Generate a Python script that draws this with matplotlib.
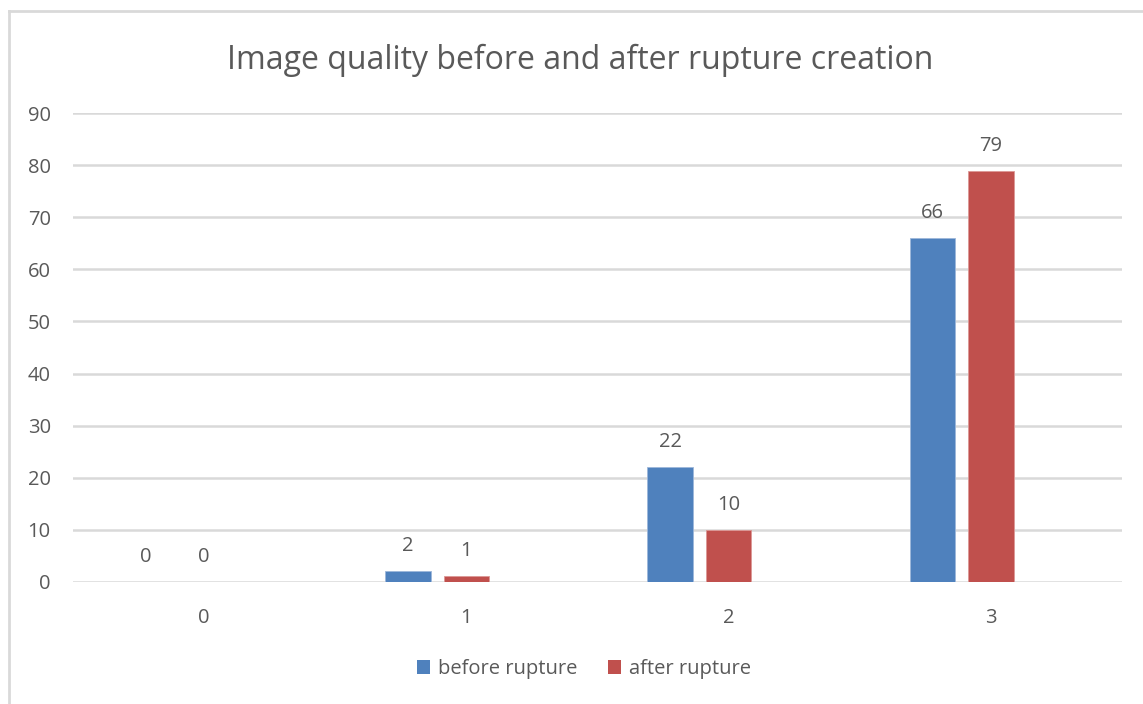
import numpy as np
import matplotlib.pyplot as plt
from matplotlib.lines import Line2D
from matplotlib.patches import Patch

plt.rcParams['font.family'] = ['Open Sans', 'DejaVu Sans']

# Data
categories = ['0', '1', '2', '3']
before = [0, 2, 22, 66]
after = [0, 1, 10, 79]

blue = '#4F81BD'
red = '#C0504D'
text_col = '#595959'
grid_col = '#D9D9D9'

fig = plt.figure(figsize=(11.43, 7.04), dpi=100)
ax = fig.add_axes([73 / 1143, 1 - 581.7 / 704, 1049 / 1143, 468.4 / 704])

x = np.arange(len(categories))
width = 0.1735
offset = 0.223

b1 = ax.bar(x - offset, before, width, color=blue, edgecolor='#9DB7DA', linewidth=0.6, zorder=3)
b2 = ax.bar(x, after, width, color=red, edgecolor='#DC9896', linewidth=0.6, zorder=3)

for bars in (b1, b2):
    for rect in bars:
        h = rect.get_height()
        ax.annotate(f'{int(h)}', (rect.get_x() + rect.get_width() / 2, h),
                    xytext=(0, 18), textcoords='offset points',
                    ha='center', va='center', fontsize=14.5, color=text_col)

ax.set_xlim(-0.5, 3.5)
ax.set_ylim(0, 90)
ax.set_yticks(range(0, 91, 10))
ax.set_xticks(x)
ax.set_xticklabels(categories)
ax.tick_params(axis='both', length=0, labelsize=14.5, colors=text_col)
ax.tick_params(axis='y', pad=16)
ax.tick_params(axis='x', pad=19)
ax.grid(axis='y', color=grid_col, linewidth=1.8, zorder=0)
for s in ax.spines.values():
    s.set_visible(False)

fig.text(580 / 1143, 1 - 60 / 704, 'Image quality before and after rupture creation',
         ha='center', va='center', fontsize=23, color=text_col)

handles = [Patch(facecolor=blue), Patch(facecolor=red)]
fig.legend(handles, ['before rupture', 'after rupture'], loc='center',
           bbox_to_anchor=(584 / 1143, 1 - 669 / 704), ncol=2, frameon=False,
           fontsize=14.5, labelcolor=text_col, handlelength=0.65, handleheight=0.65,
           handletextpad=0.4, columnspacing=1.5)

# chart frame (top and left edges visible)
fig.add_artist(Line2D([9 / 1143, 1], [1 - 11 / 704, 1 - 11 / 704],
                      transform=fig.transFigure, color=grid_col, linewidth=2))
fig.add_artist(Line2D([9 / 1143, 9 / 1143], [0, 1 - 11 / 704],
                      transform=fig.transFigure, color=grid_col, linewidth=2))

fig.savefig('out.png', dpi=100)
